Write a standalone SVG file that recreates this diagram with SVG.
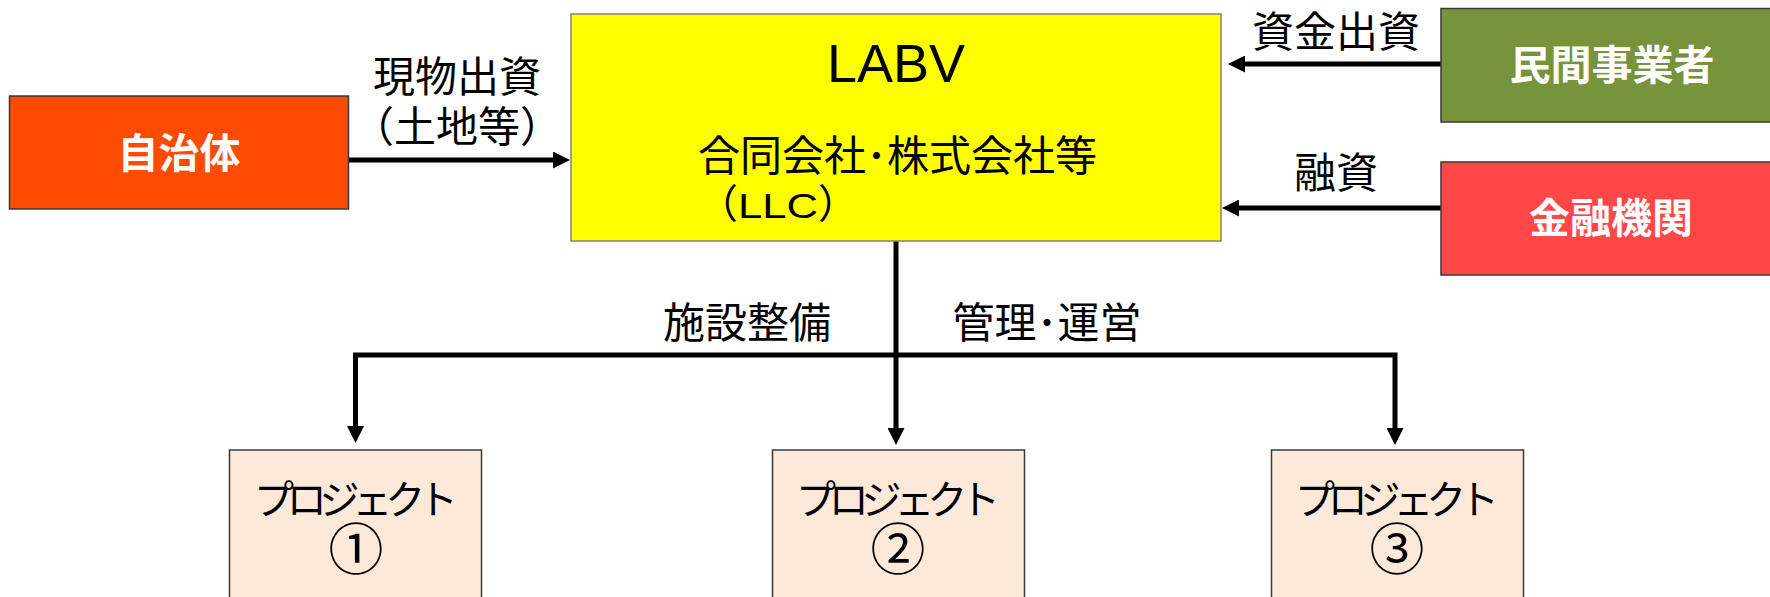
<svg xmlns="http://www.w3.org/2000/svg" width="1770" height="597" viewBox="0 0 1770 597">
  <style>
    .jp { font-family: "Noto Sans CJK JP", "Noto Sans", sans-serif; fill: #000; }
    .lbl { font-size: 42px; text-anchor: middle; }
    .wt { font-family: "Noto Sans CJK JP", "Noto Sans", sans-serif; font-size: 41px; font-weight: bold; fill: #fff; text-anchor: middle; }
    .lat { font-family: "Liberation Sans", Arial, sans-serif; fill: #000; }
    .box { stroke: #3a3a3a; stroke-width: 1.5; }
    .conn { fill: none; stroke: #000; stroke-width: 5; }
    .pj { font-family: "Noto Sans CJK JP", "Noto Sans", sans-serif; fill: #000; text-anchor: middle; }
  </style>
  <defs>
    <marker id="ah" viewBox="0 0 17 17" markerUnits="userSpaceOnUse" markerWidth="17" markerHeight="17" refX="4" refY="8.5" orient="auto">
      <path d="M0,0 L17,8.5 L0,17 Z" fill="#000"/>
    </marker>
  </defs>
  <rect width="1770" height="597" fill="#fff"/>

  <g id="connectors">
    <line class="conn" x1="349" y1="160" x2="557" y2="160" marker-end="url(#ah)"/>
    <line class="conn" x1="1441" y1="64" x2="1241" y2="64" marker-end="url(#ah)"/>
    <line class="conn" x1="1441" y1="208" x2="1235" y2="208" marker-end="url(#ah)"/>
    <line class="conn" x1="896" y1="241" x2="896" y2="432" marker-end="url(#ah)"/>
    <path class="conn" d="M896,355 H355.5 V430" marker-end="url(#ah)"/>
    <path class="conn" d="M896,355 H1395 V432" marker-end="url(#ah)"/>
    <text class="jp lbl" x="457" y="92">現物出資</text>
    <text class="jp lbl" x="457" y="142">（土地等）</text>
    <text class="jp lbl" x="1336" y="47">資金出資</text>
    <text class="jp lbl" x="1336" y="188">融資</text>
    <text class="jp lbl" x="747" y="338">施設整備</text>
    <text class="jp lbl" x="1047" y="338">管理･運営</text>
  </g>

  <g id="jichitai">
    <rect class="box" x="9.5" y="96" width="339" height="113" fill="#FF4B00"/>
    <text class="wt" x="179" y="168">自治体</text>
  </g>

  <g id="labv">
    <rect x="571" y="14" width="650" height="227" fill="#FFFF00" stroke="#808080" stroke-width="1.5"/>
    <text class="lat" x="896" y="82" font-size="54" text-anchor="middle">LABV</text>
    <text class="jp" x="698" y="171" font-size="42">合同会社･株式会社等</text>
    <text x="698" y="218"><tspan class="jp" font-size="40">（</tspan><tspan class="lat" font-size="35" textLength="80" lengthAdjust="spacingAndGlyphs">LLC</tspan><tspan class="jp" font-size="40">）</tspan></text>
  </g>

  <g id="minkan">
    <rect class="box" x="1441" y="8.5" width="345" height="113.5" fill="#77933C"/>
    <text class="wt" x="1612" y="80">民間事業者</text>
  </g>

  <g id="kinyu">
    <rect class="box" x="1441" y="162" width="345" height="113" fill="#FF4747"/>
    <text class="wt" x="1611" y="233">金融機関</text>
  </g>

  <g id="project1">
    <rect class="box" x="229.5" y="450" width="252" height="170" fill="#FDE9D9" stroke-width="1.2"/>
    <text class="pj" x="356" y="514"><tspan font-size="40" textLength="204">プロジェクト</tspan><tspan x="356" y="569" font-size="55">①</tspan></text>
  </g>

  <g id="project2">
    <rect class="box" x="772.5" y="450" width="252" height="170" fill="#FDE9D9" stroke-width="1.2"/>
    <text class="pj" x="898" y="514"><tspan font-size="40" textLength="204">プロジェクト</tspan><tspan x="898" y="569" font-size="55">②</tspan></text>
  </g>

  <g id="project3">
    <rect class="box" x="1271.5" y="450" width="252" height="170" fill="#FDE9D9" stroke-width="1.2"/>
    <text class="pj" x="1397" y="514"><tspan font-size="40" textLength="204">プロジェクト</tspan><tspan x="1397" y="569" font-size="55">③</tspan></text>
  </g>
</svg>
